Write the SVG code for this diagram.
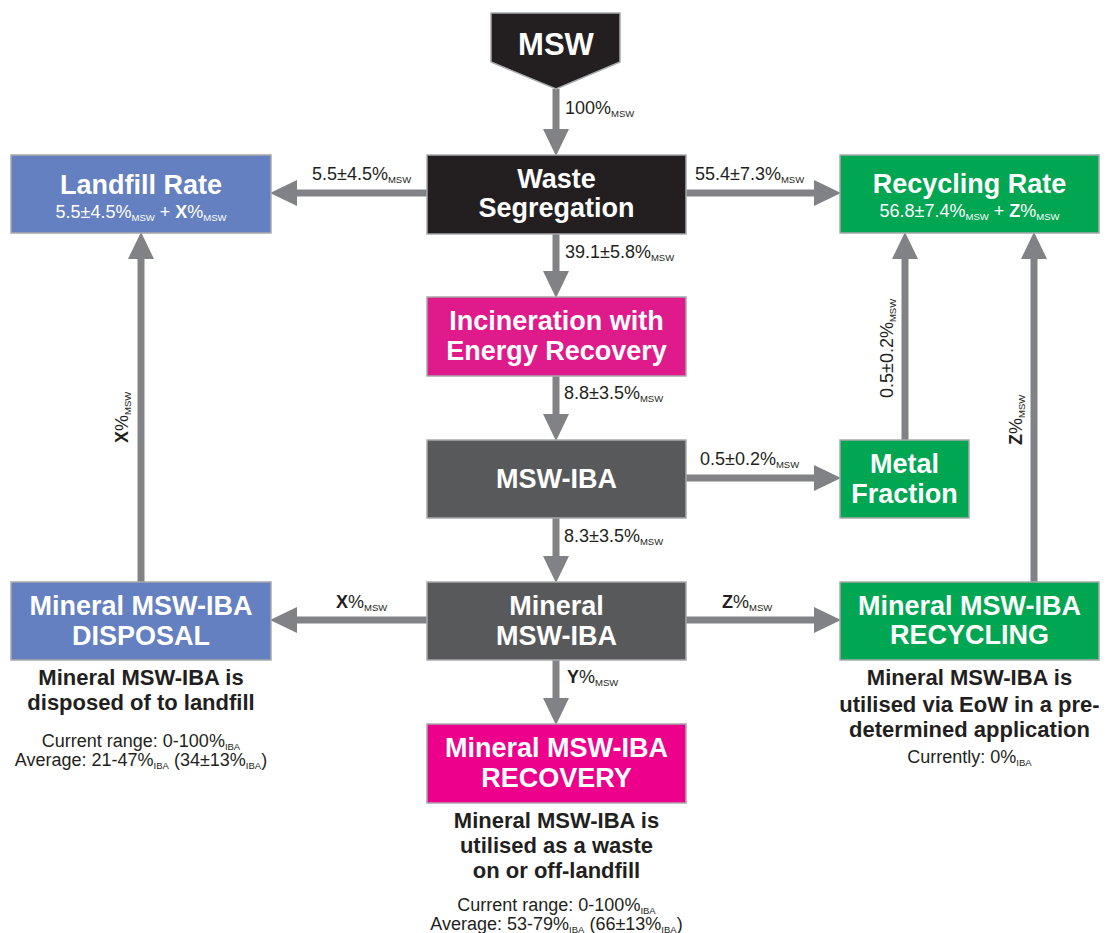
<svg xmlns="http://www.w3.org/2000/svg" width="1107" height="933" viewBox="0 0 1107 933">
<style>
.box{stroke:#a7a9ac;stroke-width:1.5}
.blue{fill:#6480c1}.green{fill:#00a651}.black{fill:#231f20}.grey{fill:#58595b}.mag1{fill:#df1b8b}.mag2{fill:#ec008c}
text{font-family:"Liberation Sans",Arial,Helvetica,sans-serif}
.t{font-weight:bold;font-size:27px;fill:#fff;text-anchor:middle}
.st{font-size:18px;fill:#fff;text-anchor:middle}
.lbl{font-size:18px;fill:#231f20}
.sub{font-size:9.5px}
.b{font-weight:bold}
.desc{font-weight:bold;font-size:22px;fill:#231f20;text-anchor:middle}
.small{font-size:18px;fill:#231f20;text-anchor:middle}
.c{stroke:#808285;stroke-width:7;fill:none;marker-end:url(#ah)}
</style>
<defs>
<marker id="ah" markerUnits="userSpaceOnUse" markerWidth="27" markerHeight="27" refX="13" refY="13" orient="auto">
<path d="M0,0 L27,13 L0,26 Z" fill="#808285"/>
</marker>
</defs>
<g id="connectors">
<line class="c" x1="556" y1="89" x2="556" y2="142"/>
<line class="c" x1="427" y1="193" x2="284" y2="193"/>
<line class="c" x1="686" y1="193" x2="827" y2="193"/>
<line class="c" x1="556" y1="234" x2="556" y2="284"/>
<line class="c" x1="556" y1="376" x2="556" y2="427"/>
<line class="c" x1="686" y1="478" x2="827" y2="478"/>
<line class="c" x1="556" y1="518" x2="556" y2="569"/>
<line class="c" x1="427" y1="620" x2="284" y2="620"/>
<line class="c" x1="686" y1="620" x2="827" y2="620"/>
<line class="c" x1="556" y1="660" x2="556" y2="711"/>
<line class="c" x1="141" y1="582" x2="141" y2="246"/>
<line class="c" x1="905" y1="440" x2="905" y2="246"/>
<line class="c" x1="1034" y1="582" x2="1034" y2="246"/>
<g id="edge-labels">
<text class="lbl" x="565" y="114">100%<tspan class="sub" dy="3">MSW</tspan></text>
<text class="lbl" x="312" y="180">5.5±4.5%<tspan class="sub" dy="3">MSW</tspan></text>
<text class="lbl" x="695" y="180">55.4±7.3%<tspan class="sub" dy="3">MSW</tspan></text>
<text class="lbl" x="565" y="258">39.1±5.8%<tspan class="sub" dy="3">MSW</tspan></text>
<text class="lbl" x="564" y="399">8.8±3.5%<tspan class="sub" dy="3">MSW</tspan></text>
<text class="lbl" x="700" y="465">0.5±0.2%<tspan class="sub" dy="3">MSW</tspan></text>
<text class="lbl" x="564" y="542">8.3±3.5%<tspan class="sub" dy="3">MSW</tspan></text>
<text class="lbl" x="336" y="608"><tspan class="b">X</tspan>%<tspan class="sub" dy="3">MSW</tspan></text>
<text class="lbl" x="722" y="608"><tspan class="b">Z</tspan>%<tspan class="sub" dy="3">MSW</tspan></text>
<text class="lbl" x="567" y="683"><tspan class="b">Y</tspan>%<tspan class="sub" dy="3">MSW</tspan></text>
<text class="lbl" transform="translate(128,443) rotate(-90)"><tspan class="b">X</tspan>%<tspan class="sub" dy="3">MSW</tspan></text>
<text class="lbl" transform="translate(893,398) rotate(-90)">0.5±0.2%<tspan class="sub" dy="3">MSW</tspan></text>
<text class="lbl" transform="translate(1022,445) rotate(-90)"><tspan class="b">Z</tspan>%<tspan class="sub" dy="3">MSW</tspan></text>
</g>
</g>
<g id="msw">
<polygon class="box black" points="491,13 620,13 620,62 556,89 491,62"/>
<text class="t" x="556" y="55" style="font-size:31px">MSW</text>
</g>
<g id="waste-segregation">
<rect class="box black" x="427" y="155" width="259" height="79"/>
<text class="t" x="556.5" y="188">Waste</text>
<text class="t" x="556.5" y="217">Segregation</text>
</g>
<g id="landfill-rate">
<rect class="box blue" x="11" y="155" width="260" height="78"/>
<text class="t" x="141" y="194">Landfill Rate</text>
<text class="st" x="141" y="218">5.5±4.5%<tspan class="sub" dy="3">MSW</tspan><tspan dy="-3"> + </tspan><tspan class="b">X</tspan>%<tspan class="sub" dy="3">MSW</tspan></text>
</g>
<g id="recycling-rate">
<rect class="box green" x="840" y="155" width="259" height="78"/>
<text class="t" x="969.5" y="193">Recycling Rate</text>
<text class="st" x="969.5" y="217">56.8±7.4%<tspan class="sub" dy="3">MSW</tspan><tspan dy="-3"> + </tspan><tspan class="b">Z</tspan>%<tspan class="sub" dy="3">MSW</tspan></text>
</g>
<g id="incineration">
<rect class="box mag1" x="427" y="297" width="259" height="79"/>
<text class="t" x="556.5" y="330">Incineration with</text>
<text class="t" x="556.5" y="360">Energy Recovery</text>
</g>
<g id="msw-iba">
<rect class="box grey" x="427" y="440" width="259" height="78"/>
<text class="t" x="556.5" y="488">MSW-IBA</text>
</g>
<g id="metal-fraction">
<rect class="box green" x="840" y="440" width="129" height="78"/>
<text class="t" x="904.5" y="473">Metal</text>
<text class="t" x="904.5" y="503">Fraction</text>
</g>
<g id="mineral-msw-iba">
<rect class="box grey" x="427" y="582" width="259" height="78"/>
<text class="t" x="556.5" y="615">Mineral</text>
<text class="t" x="556.5" y="645">MSW-IBA</text>
</g>
<g id="disposal">
<rect class="box blue" x="11" y="582" width="260" height="78"/>
<text class="t" x="141" y="615">Mineral MSW-IBA</text>
<text class="t" x="141" y="645">DISPOSAL</text>
<text class="desc" x="141" y="685">Mineral MSW-IBA is</text>
<text class="desc" x="141" y="710">disposed of to landfill</text>
<text class="small" x="141" y="747">Current range: 0-100%<tspan class="sub" dy="3">IBA</tspan></text>
<text class="small" x="141" y="766">Average: 21-47%<tspan class="sub" dy="3">IBA</tspan><tspan dy="-3"> (34±13%</tspan><tspan class="sub" dy="3">IBA</tspan><tspan dy="-3">)</tspan></text>
</g>
<g id="recycling">
<rect class="box green" x="840" y="582" width="259" height="78"/>
<text class="t" x="969.5" y="615">Mineral MSW-IBA</text>
<text class="t" x="969.5" y="644">RECYCLING</text>
<text class="desc" x="969.5" y="685">Mineral MSW-IBA is</text>
<text class="desc" x="969.5" y="712">utilised via EoW in a pre-</text>
<text class="desc" x="969.5" y="737">determined application</text>
<text class="small" x="969.5" y="763">Currently: 0%<tspan class="sub" dy="3">IBA</tspan></text>
</g>
<g id="recovery">
<rect class="box mag2" x="427" y="724" width="259" height="79"/>
<text class="t" x="556.5" y="757">Mineral MSW-IBA</text>
<text class="t" x="556.5" y="787">RECOVERY</text>
<text class="desc" x="556.5" y="828">Mineral MSW-IBA is</text>
<text class="desc" x="556.5" y="853">utilised as a waste</text>
<text class="desc" x="556.5" y="878">on or off-landfill</text>
<text class="small" x="556.5" y="911">Current range: 0-100%<tspan class="sub" dy="3">IBA</tspan></text>
<text class="small" x="556.5" y="930">Average: 53-79%<tspan class="sub" dy="3">IBA</tspan><tspan dy="-3"> (66±13%</tspan><tspan class="sub" dy="3">IBA</tspan><tspan dy="-3">)</tspan></text>
</g>
</svg>
